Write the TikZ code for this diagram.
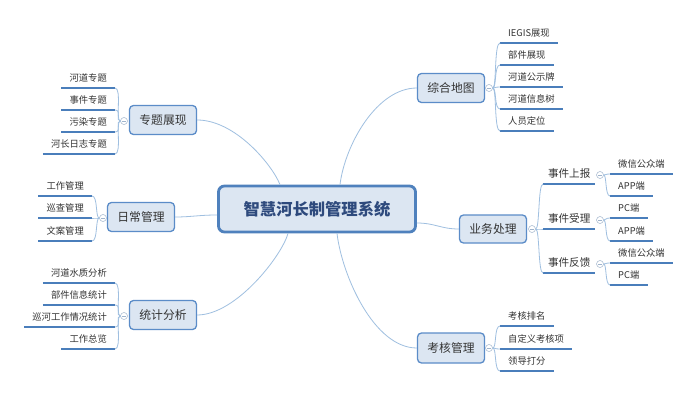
\documentclass[tikz,border=0pt]{standalone}
\usepackage{fontspec}
\setmainfont{Noto Sans CJK SC}
\definecolor{conn}{HTML}{9FBFE0}
\definecolor{uline}{HTML}{4A7EBB}
\definecolor{boxfill}{HTML}{DCE6F2}
\definecolor{boxdraw}{HTML}{5B8CC8}
\definecolor{mainborder}{HTML}{4F81BD}
\definecolor{txt}{HTML}{333333}
\definecolor{maintxt}{HTML}{2E4A7D}
\definecolor{toggray}{HTML}{A0B4CC}
\begin{document}
\begin{tikzpicture}[x=1pt,y=-1pt,
  central/.style={draw=mainborder, line width=2.8pt, fill=boxfill, rounded corners=6pt,
    minimum width=197pt, minimum height=46pt, inner sep=0pt, text=maintxt,
    font=\fontsize{16.3}{18}\selectfont\bfseries},
  branch/.style={draw=boxdraw, line width=1.3pt, fill=boxfill, rounded corners=4pt,
    minimum width=67pt, minimum height=29pt, inner sep=0pt, text=txt,
    font=\fontsize{11.8}{14}\selectfont},
  leaf/.style={inner xsep=8pt, inner ysep=4pt, text height=7.5pt, text depth=2pt,
    text=txt, font=\fontsize{9.3}{11}\selectfont},
  midleaf/.style={inner xsep=0pt, inner ysep=4pt, text height=8pt, text depth=2pt,
    minimum width=52pt, text=txt, font=\fontsize{10.6}{12}\selectfont},
  ul/.style={draw=uline, line width=1.6pt},
  conn/.style={draw=conn, line width=0.8pt},
  br/.style={draw=conn, line width=0.8pt},
  tog/.style={circle, draw=toggray, fill=white, line width=0.5pt, minimum size=7pt, inner sep=0pt,
    path picture={\draw[toggray, line width=0.5pt] ([xshift=-2pt]path picture bounding box.center) -- ([xshift=2pt]path picture bounding box.center);}}
]
\useasboundingbox (0,0) rectangle (700,414);
\fill[white] (0,0) rectangle (700,414);

% central
\node[central] (C) at (317,209) {智慧河长制管理系统};

% branches
\node[branch] (B1) at (163,120) {专题展现};
\node[branch] (B2) at (141,217) {日常管理};
\node[branch] (B3) at (163,315) {统计分析};
\node[branch] (B4) at (451,88) {综合地图};
\node[branch, minimum height=28pt] (B5) at (493,229) {业务处理};
\node[branch, minimum height=30pt] (B6) at (451,348) {考核管理};

% main connectors
\draw[conn] ([xshift=-37pt]C.north) .. controls +(-8,-20) and +(38,0) .. (B1.east);
\draw[conn] ([xshift=23pt]C.north) .. controls +(5,-40) and +(-40,0) .. (B4.west);
\draw[conn] ([yshift=-6pt]C.west) .. controls +(-18,0) and +(16,0) .. (B2.east);
\draw[conn] ([yshift=-14pt]C.east) .. controls +(18,0) and +(-18,0) .. (B5.west);
\draw[conn] ([xshift=-29pt]C.south) .. controls +(-6,22) and +(39,0) .. (B3.east);
\draw[conn] ([xshift=20pt]C.south) .. controls +(5,42) and +(-43,0) .. (B6.west);

% toggles
\node[tog] (t1) at (124,121) {};
\node[tog] (t2) at (103,218) {};
\node[tog] (t3) at (124,316) {};
\node[tog] (t4) at (489,88) {};
\node[tog] (t5) at (532,229) {};
\node[tog] (t6) at (489,348) {};

% group 1
\node[leaf, anchor=south east] (a1) at (115,88) {河道专题};
\node[leaf, anchor=south east] (a2) at (115,110) {事件专题};
\node[leaf, anchor=south east] (a3) at (115,132) {污染专题};
\node[leaf, anchor=south east] (a4) at (115,154) {河长日志专题};
\foreach \n in {a1,a2,a3,a4}{
  \draw[ul] (\n.south west) -- (\n.south east);
  \draw[br] (t1.west) .. controls +(-5,0) and +(7,0) .. (\n.south east);
}

% group 2
\node[leaf, anchor=south east] (b1) at (92,196) {工作管理};
\node[leaf, anchor=south east] (b2) at (92,218) {巡查管理};
\node[leaf, anchor=south east] (b3) at (92,241) {文案管理};
\foreach \n in {b1,b2,b3}{
  \draw[ul] (\n.south west) -- (\n.south east);
  \draw[br] (t2.west) .. controls +(-4,0) and +(6,0) .. (\n.south east);
}

% group 3
\node[leaf, anchor=south east] (c1) at (115,283) {河道水质分析};
\node[leaf, anchor=south east] (c2) at (115,305) {部件信息统计};
\node[leaf, anchor=south east] (c3) at (115,327) {巡河工作情况统计};
\node[leaf, anchor=south east] (c4) at (115,349) {工作总览};
\foreach \n in {c1,c2,c3,c4}{
  \draw[ul] (\n.south west) -- (\n.south east);
  \draw[br] (t3.west) .. controls +(-5,0) and +(7,0) .. (\n.south east);
}

% group 4
\node[leaf, anchor=south west] (d1) at (500,43) {IEGIS展现};
\node[leaf, anchor=south west] (d2) at (500,65) {部件展现};
\node[leaf, anchor=south west] (d3) at (500,87) {河道公示牌};
\node[leaf, anchor=south west] (d4) at (500,109) {河道信息树};
\node[leaf, anchor=south west] (d5) at (500,131) {人员定位};
\foreach \n in {d1,d2,d3,d4,d5}{
  \draw[ul] (\n.south west) -- (\n.south east);
  \draw[br] (t4.east) .. controls +(4,0) and +(-6,0) .. (\n.south west);
}

% group 6
\node[leaf, anchor=south west] (f1) at (500,326) {考核排名};
\node[leaf, anchor=south west] (f2) at (500,349) {自定义考核项};
\node[leaf, anchor=south west] (f3) at (500,371) {领导打分};
\foreach \n in {f1,f2,f3}{
  \draw[ul] (\n.south west) -- (\n.south east);
  \draw[br] (t6.east) .. controls +(4,0) and +(-6,0) .. (\n.south west);
}

% group 5
\node[midleaf, anchor=south west] (e1) at (543,184) {事件上报};
\node[midleaf, anchor=south west] (e2) at (543,229) {事件受理};
\node[midleaf, anchor=south west] (e3) at (543,273) {事件反馈};
\foreach \n in {e1,e2,e3}{
  \draw[ul] (\n.south west) -- (\n.south east);
  \draw[br] (t5.east) .. controls +(4,0) and +(-5,0) .. (\n.south west);
}
\node[tog] (s1) at (600,175) {};
\node[tog] (s2) at (600,220) {};
\node[tog] (s3) at (600,264) {};

\node[leaf, anchor=south west] (g1) at (610,174) {微信公众端};
\node[leaf, anchor=south west] (g2) at (610,196) {APP端};
\node[leaf, anchor=south west] (g3) at (610,218) {PC端};
\node[leaf, anchor=south west] (g4) at (610,241) {APP端};
\node[leaf, anchor=south west] (g5) at (610,263) {微信公众端};
\node[leaf, anchor=south west] (g6) at (610,285) {PC端};
\foreach \n in {g1,g2,g3,g4,g5,g6}{
  \draw[ul] (\n.south west) -- (\n.south east);
}
\foreach \s/\n in {s1/g1,s1/g2,s2/g3,s2/g4,s3/g5,s3/g6}{
  \draw[br] (\s.east) .. controls +(3,0) and +(-5,0) .. (\n.south west);
}
\end{tikzpicture}
\end{document}
